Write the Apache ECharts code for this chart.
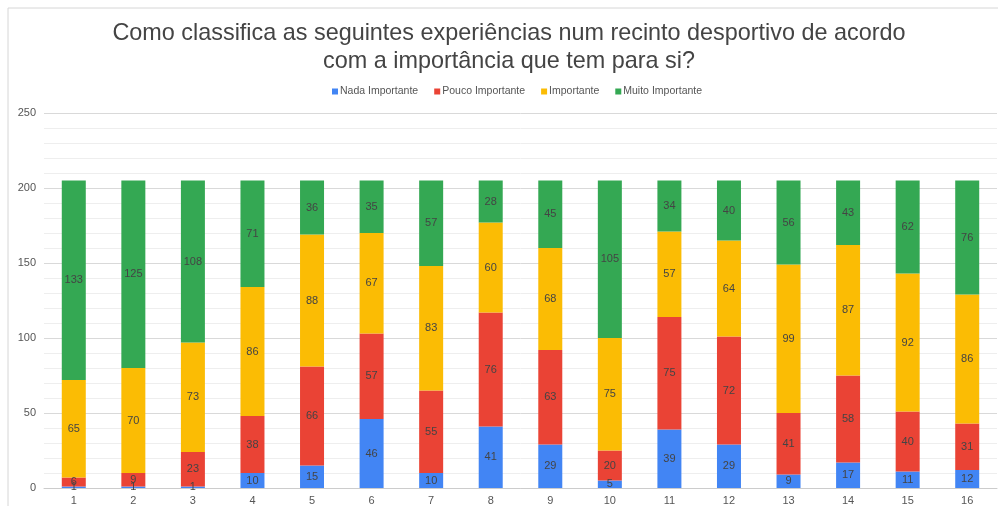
<!DOCTYPE html>
<html>
<head>
<meta charset="utf-8">
<script src="https://cdn.jsdelivr.net/npm/echarts@6/dist/echarts.min.js"></script>
<style>
html,body{margin:0;padding:0;background:#fff;}
#chart{width:998px;height:506px;}
</style>
</head>
<body>
<div id="chart"></div>
<script>
const categories = ['1','2','3','4','5','6','7','8','9','10','11','12','13','14','15','16'];
const seriesNames = ['Nada Importante','Pouco Importante','Importante','Muito Importante'];
const nada   = [1, 1, 1, 10, 15, 46, 10, 41, 29, 5, 39, 29, 9, 17, 11, 12];
const pouco  = [6, 9, 23, 38, 66, 57, 55, 76, 63, 20, 75, 72, 41, 58, 40, 31];
const imp    = [65, 70, 73, 86, 88, 67, 83, 60, 68, 75, 57, 64, 99, 87, 92, 86];
const muito  = [133, 125, 108, 71, 36, 35, 57, 28, 45, 105, 34, 40, 56, 43, 62, 76];
const titleText = 'Como classifica as seguintes experiências num recinto desportivo de acordo\ncom a importância que tem para si?';

const colors = ['#4285F4','#EA4335','#FBBC04','#34A853'];
const values = [nada, pouco, imp, muito];
const font = 'Arial, "Liberation Sans", sans-serif';

const chart = echarts.init(document.getElementById('chart'));
chart.setOption({
  animation: false,
  backgroundColor: '#fff',
  color: colors,
  textStyle: { fontFamily: font },
  title: {
    text: titleText,
    left: 504, top: 15, textAlign: 'center',
    textStyle: { fontFamily: font, fontSize: 23.4, fontWeight: 'normal', color: '#444', lineHeight: 28 }
  },
  legend: {
    data: seriesNames,
    top: 81, left: 327,
    itemWidth: 6, itemHeight: 6, itemGap: 16,
    icon: 'rect',
    textStyle: { fontFamily: font, fontSize: 10.5, color: '#555', padding: [0,0,0,-3] }
  },
  grid: { left: 44, right: 1, top: 113, bottom: 18, containLabel: false },
  xAxis: {
    type: 'category', data: categories,
    axisLine: { lineStyle: { color: '#ccc' } },
    axisTick: { show: false },
    axisLabel: { color: '#555', fontSize: 11, margin: 7, fontFamily: font }
  },
  yAxis: {
    type: 'value', min: 0, max: 250, interval: 50,
    axisLine: { show: false }, axisTick: { show: false },
    axisLabel: { color: '#555', fontSize: 11, margin: 8, fontFamily: font },
    splitLine: { lineStyle: { color: '#d9d9d9' } },
    minorTick: { show: false, splitNumber: 5 },
    minorSplitLine: { show: true, lineStyle: { color: '#eeeeee' } }
  },
  series: seriesNames.map((n, i) => ({
    name: n, type: 'bar', stack: 'total', barWidth: 24,
    data: values[i],
    itemStyle: { color: colors[i] },
    label: { show: true, position: 'inside', color: '#444', fontSize: 11, fontFamily: font }
  })),
  graphic: [
    { type: 'line', shape: { x1: 8, y1: 8, x2: 998, y2: 8 }, style: { stroke: '#d6d6d6', lineWidth: 1 } },
    { type: 'line', shape: { x1: 8, y1: 8, x2: 8, y2: 506 }, style: { stroke: '#d6d6d6', lineWidth: 1 } }
  ]
});
</script>
</body>
</html>
